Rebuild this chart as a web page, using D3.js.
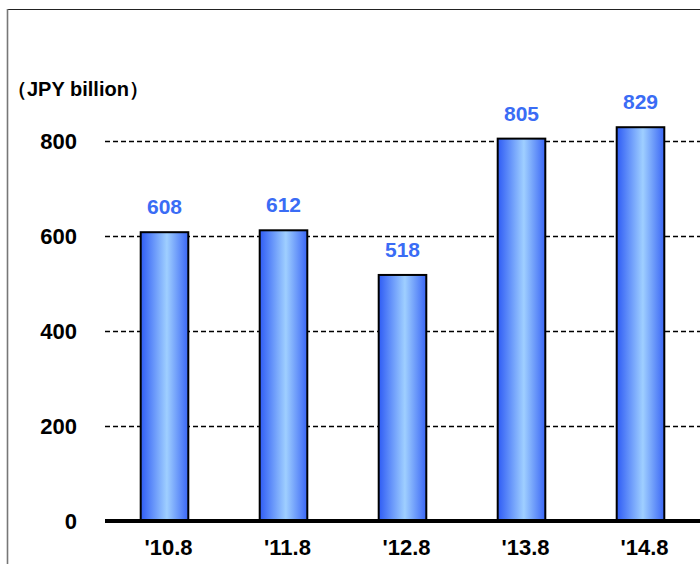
<!DOCTYPE html>
<html>
<head>
<meta charset="utf-8">
<script src="https://cdn.jsdelivr.net/npm/d3@7"></script>
<style>
  html, body { margin: 0; padding: 0; background: #fff; }
  svg { display: block; }
  text { font-family: "Liberation Sans", Arial, sans-serif; font-weight: bold; }
</style>
</head>
<body>
<svg id="chart" width="700" height="564"></svg>
<script>
// Fiscal periods and values (JPY billion)
const categories = ["'10.8", "'11.8", "'12.8", "'13.8", "'14.8"];
const values = [608, 612, 518, 805, 829];
const yTicks = [0, 200, 400, 600, 800];
const unitLabel = "（JPY billion）";

const svg = d3.select("#chart");
const W = 700, H = 564;
const plot = { left: 105, right: 700, top: 141, bottom: 521 };

// Outer frame (open on the right and bottom edges)
svg.append("line")
  .attr("x1", 7).attr("x2", W)
  .attr("y1", 9.5).attr("y2", 9.5)
  .attr("stroke", "#222").attr("stroke-width", 1.2);
svg.append("line")
  .attr("x1", 7.5).attr("x2", 7.5)
  .attr("y1", 9).attr("y2", H)
  .attr("stroke", "#777").attr("stroke-width", 1.6);

const x = d3.scaleBand()
  .domain(categories)
  .range([plot.left, plot.right])
  .paddingInner(0.6)
  .paddingOuter(0.3);

const y = d3.scaleLinear()
  .domain([0, 800])
  .range([plot.bottom, plot.top]);

// Horizontal gradient for bar fill
const defs = svg.append("defs");
const grad = defs.append("linearGradient")
  .attr("id", "barGrad")
  .attr("x1", "0%").attr("x2", "100%")
  .attr("y1", "0%").attr("y2", "0%");
grad.append("stop").attr("offset", "0%").attr("stop-color", "#2f5cf5");
grad.append("stop").attr("offset", "55%").attr("stop-color", "#9fcfff");
grad.append("stop").attr("offset", "100%").attr("stop-color", "#3a66f5");

// Dashed gridlines
svg.append("g")
  .selectAll("line")
  .data(yTicks.filter(d => d > 0))
  .join("line")
  .attr("x1", plot.left)
  .attr("x2", plot.right)
  .attr("y1", d => Math.round(y(d)) + 0.5)
  .attr("y2", d => Math.round(y(d)) + 0.5)
  .attr("stroke", "#000")
  .attr("stroke-width", 1.5)
  .attr("stroke-dasharray", "5,3");

// Y axis tick labels
const yAxis = d3.axisLeft(y).tickValues(yTicks).tickSize(0).tickPadding(0);
const yg = svg.append("g")
  .attr("transform", `translate(77,0)`)
  .call(yAxis);
yg.select(".domain").remove();
yg.attr("font-family", null).attr("font-size", null);
yg.selectAll("text")
  .attr("font-size", 22)
  .attr("fill", "#000")
  .attr("dy", "0.36em");

// Bars
svg.append("g")
  .selectAll("rect")
  .data(values)
  .join("rect")
  .attr("x", (d, i) => x(categories[i]))
  .attr("y", d => y(d))
  .attr("width", x.bandwidth())
  .attr("height", d => y(0) - y(d))
  .attr("fill", "url(#barGrad)")
  .attr("stroke", "#000")
  .attr("stroke-width", 2);

// Value labels
svg.append("g")
  .selectAll("text")
  .data(values)
  .join("text")
  .attr("x", (d, i) => x(categories[i]) + x.bandwidth() / 2)
  .attr("y", d => y(d) - 18)
  .attr("text-anchor", "middle")
  .attr("font-size", 21)
  .attr("fill", "#3a6cf5")
  .text(d => d);

// Baseline
svg.append("line")
  .attr("x1", plot.left)
  .attr("x2", plot.right)
  .attr("y1", y(0))
  .attr("y2", y(0))
  .attr("stroke", "#000")
  .attr("stroke-width", 4);

// X axis labels
const xAxis = d3.axisBottom(x).tickSize(0).tickPadding(0);
const xg = svg.append("g")
  .attr("transform", `translate(4,${plot.bottom + 34})`)
  .call(xAxis);
xg.select(".domain").remove();
xg.attr("font-family", null).attr("font-size", null);
xg.selectAll("text")
  .attr("font-size", 22)
  .attr("fill", "#000")
  .attr("dy", "0");

// Unit label
svg.append("text")
  .attr("x", 7)
  .attr("y", 96)
  .attr("font-size", 20)
  .attr("fill", "#000")
  .text(unitLabel);
</script>
</body>
</html>
